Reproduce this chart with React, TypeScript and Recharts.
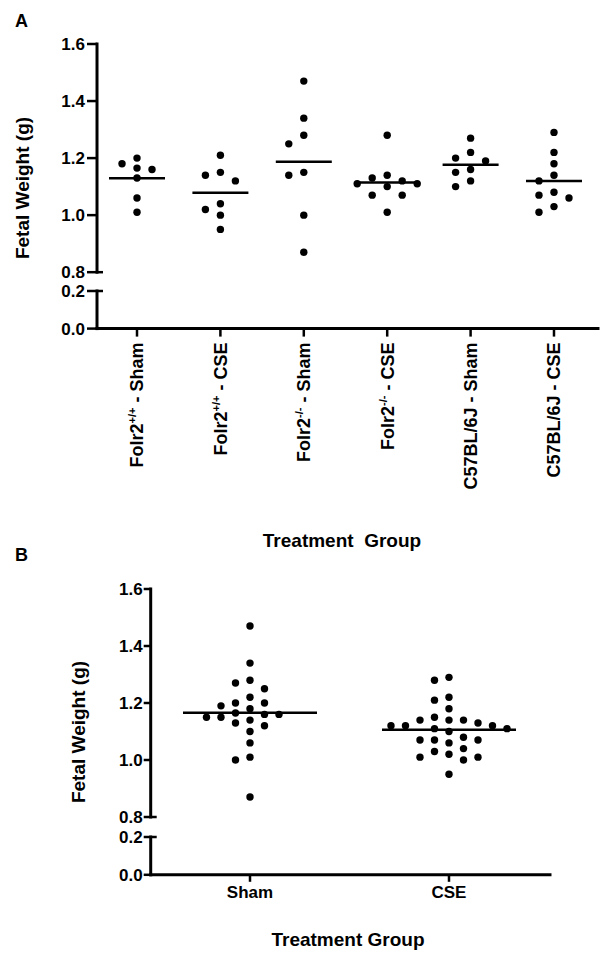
import { ScatterChart, Scatter, XAxis, YAxis } from 'recharts'

const FONT = '"Liberation Sans", Arial, Helvetica, sans-serif'
const W = 606

// panel A groups
const genotypes = ['Folr2', 'Folr2', 'Folr2', 'Folr2', 'C57BL/6J', 'C57BL/6J']
const alleles = ['+/+', '+/+', '-/-', '-/-', '', '']
const treatments = ['Sham', 'CSE', 'Sham', 'CSE', 'Sham', 'CSE']

// fetal weight (g), one value per fetus
const folr2WtSham = [1.18, 1.165, 1.2, 1.16, 1.13, 1.06, 1.01]
const folr2WtCse = [1.21, 1.15, 1.14, 1.12, 1.04, 1.02, 1.0, 0.95]
const folr2KoSham = [1.47, 1.34, 1.28, 1.25, 1.15, 1.14, 1.0, 0.87]
const folr2KoCse = [1.28, 1.14, 1.13, 1.12, 1.11, 1.11, 1.1, 1.07, 1.07, 1.01]
const c57Sham = [1.27, 1.22, 1.2, 1.19, 1.16, 1.15, 1.12, 1.1]
const c57Cse = [1.29, 1.22, 1.18, 1.14, 1.12, 1.08, 1.07, 1.06, 1.03, 1.01]

// panel B pools all strains
const pooledGroups = ['Sham', 'CSE']
const pooledSham = [...folr2WtSham, ...folr2KoSham, ...c57Sham]
const pooledCse = [...folr2WtCse, ...folr2KoCse, ...c57Cse]

const upperTicks = [0.8, 1.0, 1.2, 1.4, 1.6]
const lowerTicks = [0, 0.2]

const MIN_GAP = 9

// simple beeswarm: put each dot in the column nearest the centre that is free
function swarm(values: number[], pxPerUnit: number) {
  const order = values.map((_, i) => i).sort((a, b) => values[b] - values[a])
  const cols: number[] = new Array(values.length).fill(0)
  const placed: { v: number; c: number }[] = []
  for (const i of order) {
    let c = 0
    for (let step = 0; step < 40; step++) {
      c = step === 0 ? 0 : step % 2 ? -Math.ceil(step / 2) : step / 2
      const hit = placed.some((p) => p.c === c && Math.abs(p.v - values[i]) * pxPerUnit < MIN_GAP)
      if (!hit) break
    }
    cols[i] = c
    placed.push({ v: values[i], c })
  }
  return cols
}

type Geo = {
  left: number
  right: number
  upperTop: number
  upperBottom: number
  lowerTop: number
  lowerBottom: number
  yTick: number
  yTickMargin: number
  xTick: number
  padL: number
  padR: number
  dotStep: number
  meanHalf: number
  xAxisH: number
}

const Dot = (props: any) => <circle cx={props.cx} cy={props.cy} r={3.7} fill='#000' />

function makeYTick(axisX: number, breakAt: number) {
  return (props: any) => {
    const { x, y, payload } = props
    const isBreak = Math.abs(payload.value - breakAt) < 1e-9
    return (
      <g>
        <text x={x} y={y} dy='0.36em' textAnchor='end' fontFamily={FONT} fontSize={17} fontWeight='bold' fill='#000'>
          {Number(payload.value).toFixed(1)}
        </text>
        {isBreak && <line x1={axisX} x2={axisX + 6} y1={y} y2={y} stroke='#000' strokeWidth={2.5} />}
      </g>
    )
  }
}

const RotatedTick = (props: any) => {
  const { x, y, payload } = props
  const i = Math.round(payload.value)
  const bx = x + 6.5
  const by = y + 4
  return (
    <text
      x={bx}
      y={by}
      transform={`rotate(-90 ${bx} ${by})`}
      textAnchor='end'
      fontFamily={FONT}
      fontSize={18}
      fontWeight='bold'
      fill='#000'
      style={{ whiteSpace: 'pre' }}
    >
      {genotypes[i]}
      {alleles[i] ? (
        <>
          <tspan dy={-7} fontSize={11}>{alleles[i]}</tspan>
          <tspan dy={7}>{' - ' + treatments[i]}</tspan>
        </>
      ) : (
        <tspan>{' - ' + treatments[i]}</tspan>
      )}
    </text>
  )
}

const FlatTick = (props: any) => {
  const { x, y, payload } = props
  return (
    <text x={x} y={y + 14} textAnchor='middle' fontFamily={FONT} fontSize={17} fontWeight='bold' fill='#000'>
      {pooledGroups[Math.round(payload.value)]}
    </text>
  )
}

const axisLine = { stroke: '#000', strokeWidth: 3, strokeLinecap: 'square' as const }
const tickLine = { stroke: '#000', strokeWidth: 2.5 }

function Panel({ series, geo, xTick }: { series: number[][]; geo: Geo; xTick: (p: any) => any }) {
  const n = series.length
  const unitPx = (geo.right - geo.left - geo.padL - geo.padR) / Math.max(n - 1, 1)
  const pxPerUnit = (geo.upperBottom - geo.upperTop) / 0.8

  const dots = series.flatMap((vals, gi) => {
    const cols = swarm(vals, pxPerUnit)
    return vals.map((v, j) => ({ x: gi + (cols[j] * geo.dotStep) / unitPx, y: v }))
  })
  const means = series.map((vals, gi) => ({ x: gi, y: vals.reduce((s, v) => s + v, 0) / vals.length }))

  const MeanLine = (props: any) => (
    <line x1={props.cx - geo.meanHalf} x2={props.cx + geo.meanHalf} y1={props.cy} y2={props.cy} stroke='#000' strokeWidth={2.5} />
  )

  const xTicks = series.map((_, i) => i)
  // group centres sit a little in from the ends of the x axis
  const xDomain = [-geo.padL / unitPx, n - 1 + geo.padR / unitPx]
  const pad = 12
  const upperH = geo.upperBottom - geo.upperTop + 2 * pad
  const lowerH = pad + (geo.lowerBottom - geo.lowerTop) + geo.xAxisH

  return (
    <>
      <div style={{ position: 'absolute', left: 0, top: geo.upperTop - pad }}>
        <ScatterChart width={W} height={upperH} margin={{ top: pad, right: W - geo.right, bottom: pad, left: 0 }}>
          <XAxis type='number' dataKey='x' domain={xDomain} ticks={xTicks} hide />
          <YAxis
            type='number'
            dataKey='y'
            domain={[0.8, 1.6]}
            ticks={upperTicks}
            interval={0}
            width={geo.left}
            axisLine={axisLine}
            tickLine={tickLine}
            tickSize={geo.yTick}
            tickMargin={geo.yTickMargin}
            tick={makeYTick(geo.left, 0.8)}
          />
          <Scatter data={dots} shape={Dot} isAnimationActive={false} />
          <Scatter data={means} shape={MeanLine} isAnimationActive={false} />
        </ScatterChart>
      </div>
      <div style={{ position: 'absolute', left: 0, top: geo.lowerTop - pad }}>
        <ScatterChart width={W} height={lowerH} margin={{ top: pad, right: W - geo.right, bottom: 0, left: 0 }}>
          <XAxis
            type='number'
            dataKey='x'
            domain={xDomain}
            ticks={xTicks}
            interval={0}
            allowDataOverflow
            height={geo.xAxisH}
            axisLine={axisLine}
            tickLine={tickLine}
            tickSize={geo.xTick}
            tick={xTick}
          />
          <YAxis
            type='number'
            dataKey='y'
            domain={[0, 0.2]}
            ticks={lowerTicks}
            interval={0}
            allowDataOverflow
            width={geo.left}
            axisLine={axisLine}
            tickLine={tickLine}
            tickSize={geo.yTick}
            tickMargin={geo.yTickMargin}
            tick={makeYTick(geo.left, 0.2)}
          />
          <Scatter data={[]} shape={Dot} isAnimationActive={false} />
        </ScatterChart>
      </div>
    </>
  )
}

const geoA: Geo = {
  left: 97,
  right: 598,
  upperTop: 43.5,
  upperBottom: 271.7,
  lowerTop: 290.7,
  lowerBottom: 328.3,
  yTick: 10,
  yTickMargin: 2,
  xTick: 8,
  padL: 40,
  padR: 44,
  dotStep: 15,
  meanHalf: 28,
  xAxisH: 200,
}

const geoB: Geo = {
  left: 150.7,
  right: 550,
  upperTop: 589.3,
  upperBottom: 817.3,
  lowerTop: 836.7,
  lowerBottom: 874.5,
  yTick: 7,
  yTickMargin: 1,
  xTick: 7,
  padL: 99.3,
  padR: 101,
  dotStep: 14.5,
  meanHalf: 67,
  xAxisH: 40,
}

const titleStyle = { fontFamily: FONT, fontWeight: 'bold' as const, fill: '#000' }

export default function App() {
  return (
    <div style={{ position: 'absolute', left: 0, top: 0, width: W, height: 961, background: '#fff' }}>
      <svg width={W} height={961} style={{ position: 'absolute', left: 0, top: 0 }}>
        <text x={15} y={27} fontSize={18} {...titleStyle}>A</text>
        <text x={15} y={561} fontSize={18} {...titleStyle}>B</text>
        <text x={29} y={188} transform='rotate(-90 29 188)' textAnchor='middle' fontSize={19} {...titleStyle}>
          Fetal Weight (g)
        </text>
        <text x={85} y={732} transform='rotate(-90 85 732)' textAnchor='middle' fontSize={19} {...titleStyle}>
          Fetal Weight (g)
        </text>
        <text x={342} y={547} textAnchor='middle' fontSize={19} style={{ whiteSpace: 'pre' }} {...titleStyle}>
          {'Treatment  Group'}
        </text>
        <text x={348} y={946} textAnchor='middle' fontSize={19} {...titleStyle}>
          Treatment Group
        </text>
      </svg>
      <Panel series={[folr2WtSham, folr2WtCse, folr2KoSham, folr2KoCse, c57Sham, c57Cse]} geo={geoA} xTick={RotatedTick} />
      <Panel series={[pooledSham, pooledCse]} geo={geoB} xTick={FlatTick} />
    </div>
  )
}
